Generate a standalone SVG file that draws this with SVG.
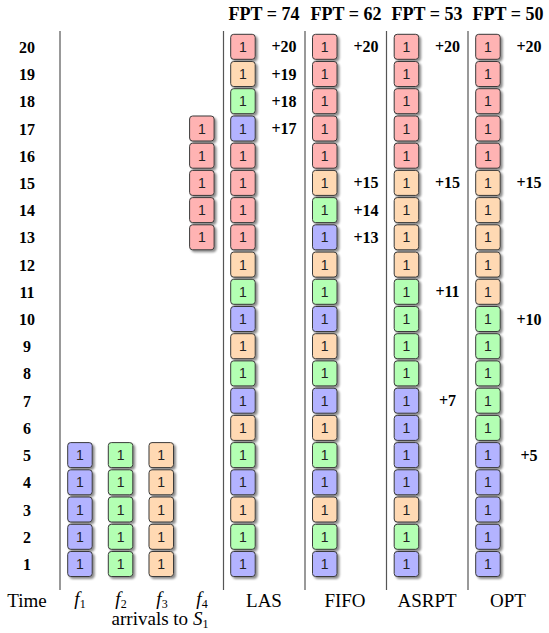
<svg xmlns="http://www.w3.org/2000/svg" width="549" height="633" viewBox="0 0 549 633">
<style>
.bg{fill:#fff}
.c{stroke:#3a3a3a;stroke-width:1;filter:url(#sh)}
.R{fill:#FFB3B3}.O{fill:#FFD9B3}.G{fill:#B3FFB3}.B{fill:#B3B3FF}
.n{font-family:"Liberation Sans",Arial,sans-serif;font-size:14px;fill:#222;text-anchor:middle}
.rl{font-family:"Liberation Serif","Times New Roman",serif;font-size:16px;font-weight:bold;text-anchor:middle;fill:#000}
.pl{font-family:"Liberation Serif","Times New Roman",serif;font-size:16px;font-weight:bold;text-anchor:middle;fill:#000}
.hd{font-family:"Liberation Serif","Times New Roman",serif;font-size:18px;font-weight:bold;text-anchor:middle;fill:#000}
.bl{font-family:"Liberation Serif","Times New Roman",serif;font-size:19px;text-anchor:middle;fill:#000}
.it{font-style:italic}
.sub{font-size:12px}
.sep{stroke:#555;stroke-width:1.2}
</style>
<defs>
<filter id="sh" x="-30%" y="-30%" width="170%" height="170%">
<feDropShadow dx="2" dy="2" stdDeviation="1.2" flood-color="#000" flood-opacity="0.45"/>
</filter>
</defs>
<rect class="bg" x="0" y="0" width="549" height="633"/>

<g id="separators">
<line class="sep" x1="60" y1="31" x2="60" y2="590"/>
<line class="sep" x1="223.5" y1="31" x2="223.5" y2="590"/>
<line class="sep" x1="305" y1="31" x2="305" y2="590"/>
<line class="sep" x1="386.5" y1="31" x2="386.5" y2="590"/>
<line class="sep" x1="468" y1="31" x2="468" y2="590"/>
</g>

<g id="headers">
<text class="hd" x="264" y="20">FPT = 74</text>
<text class="hd" x="346" y="20">FPT = 62</text>
<text class="hd" x="427" y="20">FPT = 53</text>
<text class="hd" x="508" y="20">FPT = 50</text>
</g>

<g id="row-labels">
<text class="rl" x="27" y="52.8">20</text>
<text class="rl" x="27" y="80">19</text>
<text class="rl" x="27" y="107.2">18</text>
<text class="rl" x="27" y="134.5">17</text>
<text class="rl" x="27" y="161.7">16</text>
<text class="rl" x="27" y="188.9">15</text>
<text class="rl" x="27" y="216.1">14</text>
<text class="rl" x="27" y="243.3">13</text>
<text class="rl" x="27" y="270.6">12</text>
<text class="rl" x="27" y="297.8">11</text>
<text class="rl" x="27" y="325">10</text>
<text class="rl" x="27" y="352.2">9</text>
<text class="rl" x="27" y="379.4">8</text>
<text class="rl" x="27" y="406.7">7</text>
<text class="rl" x="27" y="433.9">6</text>
<text class="rl" x="27" y="461.1">5</text>
<text class="rl" x="27" y="488.3">4</text>
<text class="rl" x="27" y="515.5">3</text>
<text class="rl" x="27" y="542.8">2</text>
<text class="rl" x="27" y="570">1</text>
</g>

<g id="col-f1">
<g id="f1-r5"><rect class="c B" x="67.7" y="442.6" width="24.5" height="25" rx="3"/><text class="n" x="79.95" y="460.1">1</text></g>
<g id="f1-r4"><rect class="c B" x="67.7" y="469.8" width="24.5" height="25" rx="3"/><text class="n" x="79.95" y="487.3">1</text></g>
<g id="f1-r3"><rect class="c B" x="67.7" y="497" width="24.5" height="25" rx="3"/><text class="n" x="79.95" y="514.5">1</text></g>
<g id="f1-r2"><rect class="c B" x="67.7" y="524.3" width="24.5" height="25" rx="3"/><text class="n" x="79.95" y="541.8">1</text></g>
<g id="f1-r1"><rect class="c B" x="67.7" y="551.5" width="24.5" height="25" rx="3"/><text class="n" x="79.95" y="569">1</text></g>
</g>
<g id="col-f2">
<g id="f2-r5"><rect class="c G" x="108.3" y="442.6" width="24.5" height="25" rx="3"/><text class="n" x="120.55" y="460.1">1</text></g>
<g id="f2-r4"><rect class="c G" x="108.3" y="469.8" width="24.5" height="25" rx="3"/><text class="n" x="120.55" y="487.3">1</text></g>
<g id="f2-r3"><rect class="c G" x="108.3" y="497" width="24.5" height="25" rx="3"/><text class="n" x="120.55" y="514.5">1</text></g>
<g id="f2-r2"><rect class="c G" x="108.3" y="524.3" width="24.5" height="25" rx="3"/><text class="n" x="120.55" y="541.8">1</text></g>
<g id="f2-r1"><rect class="c G" x="108.3" y="551.5" width="24.5" height="25" rx="3"/><text class="n" x="120.55" y="569">1</text></g>
</g>
<g id="col-f3">
<g id="f3-r5"><rect class="c O" x="149" y="442.6" width="24.5" height="25" rx="3"/><text class="n" x="161.25" y="460.1">1</text></g>
<g id="f3-r4"><rect class="c O" x="149" y="469.8" width="24.5" height="25" rx="3"/><text class="n" x="161.25" y="487.3">1</text></g>
<g id="f3-r3"><rect class="c O" x="149" y="497" width="24.5" height="25" rx="3"/><text class="n" x="161.25" y="514.5">1</text></g>
<g id="f3-r2"><rect class="c O" x="149" y="524.3" width="24.5" height="25" rx="3"/><text class="n" x="161.25" y="541.8">1</text></g>
<g id="f3-r1"><rect class="c O" x="149" y="551.5" width="24.5" height="25" rx="3"/><text class="n" x="161.25" y="569">1</text></g>
</g>
<g id="col-f4">
<g id="f4-r17"><rect class="c R" x="189.6" y="116" width="24.5" height="25" rx="3"/><text class="n" x="201.85" y="133.5">1</text></g>
<g id="f4-r16"><rect class="c R" x="189.6" y="143.2" width="24.5" height="25" rx="3"/><text class="n" x="201.85" y="160.7">1</text></g>
<g id="f4-r15"><rect class="c R" x="189.6" y="170.4" width="24.5" height="25" rx="3"/><text class="n" x="201.85" y="187.9">1</text></g>
<g id="f4-r14"><rect class="c R" x="189.6" y="197.6" width="24.5" height="25" rx="3"/><text class="n" x="201.85" y="215.1">1</text></g>
<g id="f4-r13"><rect class="c R" x="189.6" y="224.8" width="24.5" height="25" rx="3"/><text class="n" x="201.85" y="242.3">1</text></g>
</g>

<g id="col-las">
<g id="las-r20"><rect class="c R" x="230.7" y="34.3" width="24.5" height="25" rx="3"/><text class="n" x="242.95" y="51.8">1</text></g>
<g id="las-r19"><rect class="c O" x="230.7" y="61.5" width="24.5" height="25" rx="3"/><text class="n" x="242.95" y="79">1</text></g>
<g id="las-r18"><rect class="c G" x="230.7" y="88.7" width="24.5" height="25" rx="3"/><text class="n" x="242.95" y="106.2">1</text></g>
<g id="las-r17"><rect class="c B" x="230.7" y="116" width="24.5" height="25" rx="3"/><text class="n" x="242.95" y="133.5">1</text></g>
<g id="las-r16"><rect class="c R" x="230.7" y="143.2" width="24.5" height="25" rx="3"/><text class="n" x="242.95" y="160.7">1</text></g>
<g id="las-r15"><rect class="c R" x="230.7" y="170.4" width="24.5" height="25" rx="3"/><text class="n" x="242.95" y="187.9">1</text></g>
<g id="las-r14"><rect class="c R" x="230.7" y="197.6" width="24.5" height="25" rx="3"/><text class="n" x="242.95" y="215.1">1</text></g>
<g id="las-r13"><rect class="c R" x="230.7" y="224.8" width="24.5" height="25" rx="3"/><text class="n" x="242.95" y="242.3">1</text></g>
<g id="las-r12"><rect class="c O" x="230.7" y="252.1" width="24.5" height="25" rx="3"/><text class="n" x="242.95" y="269.6">1</text></g>
<g id="las-r11"><rect class="c G" x="230.7" y="279.3" width="24.5" height="25" rx="3"/><text class="n" x="242.95" y="296.8">1</text></g>
<g id="las-r10"><rect class="c B" x="230.7" y="306.5" width="24.5" height="25" rx="3"/><text class="n" x="242.95" y="324">1</text></g>
<g id="las-r9"><rect class="c O" x="230.7" y="333.7" width="24.5" height="25" rx="3"/><text class="n" x="242.95" y="351.2">1</text></g>
<g id="las-r8"><rect class="c G" x="230.7" y="360.9" width="24.5" height="25" rx="3"/><text class="n" x="242.95" y="378.4">1</text></g>
<g id="las-r7"><rect class="c B" x="230.7" y="388.2" width="24.5" height="25" rx="3"/><text class="n" x="242.95" y="405.7">1</text></g>
<g id="las-r6"><rect class="c O" x="230.7" y="415.4" width="24.5" height="25" rx="3"/><text class="n" x="242.95" y="432.9">1</text></g>
<g id="las-r5"><rect class="c G" x="230.7" y="442.6" width="24.5" height="25" rx="3"/><text class="n" x="242.95" y="460.1">1</text></g>
<g id="las-r4"><rect class="c B" x="230.7" y="469.8" width="24.5" height="25" rx="3"/><text class="n" x="242.95" y="487.3">1</text></g>
<g id="las-r3"><rect class="c O" x="230.7" y="497" width="24.5" height="25" rx="3"/><text class="n" x="242.95" y="514.5">1</text></g>
<g id="las-r2"><rect class="c G" x="230.7" y="524.3" width="24.5" height="25" rx="3"/><text class="n" x="242.95" y="541.8">1</text></g>
<g id="las-r1"><rect class="c B" x="230.7" y="551.5" width="24.5" height="25" rx="3"/><text class="n" x="242.95" y="569">1</text></g>
<text class="pl" x="284" y="52.3">+20</text>
<text class="pl" x="284" y="79.5">+19</text>
<text class="pl" x="284" y="106.7">+18</text>
<text class="pl" x="284" y="134">+17</text>
</g>

<g id="col-fifo">
<g id="fifo-r20"><rect class="c R" x="312.5" y="34.3" width="24.5" height="25" rx="3"/><text class="n" x="324.75" y="51.8">1</text></g>
<g id="fifo-r19"><rect class="c R" x="312.5" y="61.5" width="24.5" height="25" rx="3"/><text class="n" x="324.75" y="79">1</text></g>
<g id="fifo-r18"><rect class="c R" x="312.5" y="88.7" width="24.5" height="25" rx="3"/><text class="n" x="324.75" y="106.2">1</text></g>
<g id="fifo-r17"><rect class="c R" x="312.5" y="116" width="24.5" height="25" rx="3"/><text class="n" x="324.75" y="133.5">1</text></g>
<g id="fifo-r16"><rect class="c R" x="312.5" y="143.2" width="24.5" height="25" rx="3"/><text class="n" x="324.75" y="160.7">1</text></g>
<g id="fifo-r15"><rect class="c O" x="312.5" y="170.4" width="24.5" height="25" rx="3"/><text class="n" x="324.75" y="187.9">1</text></g>
<g id="fifo-r14"><rect class="c G" x="312.5" y="197.6" width="24.5" height="25" rx="3"/><text class="n" x="324.75" y="215.1">1</text></g>
<g id="fifo-r13"><rect class="c B" x="312.5" y="224.8" width="24.5" height="25" rx="3"/><text class="n" x="324.75" y="242.3">1</text></g>
<g id="fifo-r12"><rect class="c O" x="312.5" y="252.1" width="24.5" height="25" rx="3"/><text class="n" x="324.75" y="269.6">1</text></g>
<g id="fifo-r11"><rect class="c G" x="312.5" y="279.3" width="24.5" height="25" rx="3"/><text class="n" x="324.75" y="296.8">1</text></g>
<g id="fifo-r10"><rect class="c B" x="312.5" y="306.5" width="24.5" height="25" rx="3"/><text class="n" x="324.75" y="324">1</text></g>
<g id="fifo-r9"><rect class="c O" x="312.5" y="333.7" width="24.5" height="25" rx="3"/><text class="n" x="324.75" y="351.2">1</text></g>
<g id="fifo-r8"><rect class="c G" x="312.5" y="360.9" width="24.5" height="25" rx="3"/><text class="n" x="324.75" y="378.4">1</text></g>
<g id="fifo-r7"><rect class="c B" x="312.5" y="388.2" width="24.5" height="25" rx="3"/><text class="n" x="324.75" y="405.7">1</text></g>
<g id="fifo-r6"><rect class="c O" x="312.5" y="415.4" width="24.5" height="25" rx="3"/><text class="n" x="324.75" y="432.9">1</text></g>
<g id="fifo-r5"><rect class="c G" x="312.5" y="442.6" width="24.5" height="25" rx="3"/><text class="n" x="324.75" y="460.1">1</text></g>
<g id="fifo-r4"><rect class="c B" x="312.5" y="469.8" width="24.5" height="25" rx="3"/><text class="n" x="324.75" y="487.3">1</text></g>
<g id="fifo-r3"><rect class="c O" x="312.5" y="497" width="24.5" height="25" rx="3"/><text class="n" x="324.75" y="514.5">1</text></g>
<g id="fifo-r2"><rect class="c G" x="312.5" y="524.3" width="24.5" height="25" rx="3"/><text class="n" x="324.75" y="541.8">1</text></g>
<g id="fifo-r1"><rect class="c B" x="312.5" y="551.5" width="24.5" height="25" rx="3"/><text class="n" x="324.75" y="569">1</text></g>
<text class="pl" x="366" y="52.3">+20</text>
<text class="pl" x="366" y="188.4">+15</text>
<text class="pl" x="366" y="215.6">+14</text>
<text class="pl" x="366" y="242.8">+13</text>
</g>

<g id="col-asrpt">
<g id="asrpt-r20"><rect class="c R" x="394.2" y="34.3" width="24.5" height="25" rx="3"/><text class="n" x="406.45" y="51.8">1</text></g>
<g id="asrpt-r19"><rect class="c R" x="394.2" y="61.5" width="24.5" height="25" rx="3"/><text class="n" x="406.45" y="79">1</text></g>
<g id="asrpt-r18"><rect class="c R" x="394.2" y="88.7" width="24.5" height="25" rx="3"/><text class="n" x="406.45" y="106.2">1</text></g>
<g id="asrpt-r17"><rect class="c R" x="394.2" y="116" width="24.5" height="25" rx="3"/><text class="n" x="406.45" y="133.5">1</text></g>
<g id="asrpt-r16"><rect class="c R" x="394.2" y="143.2" width="24.5" height="25" rx="3"/><text class="n" x="406.45" y="160.7">1</text></g>
<g id="asrpt-r15"><rect class="c O" x="394.2" y="170.4" width="24.5" height="25" rx="3"/><text class="n" x="406.45" y="187.9">1</text></g>
<g id="asrpt-r14"><rect class="c O" x="394.2" y="197.6" width="24.5" height="25" rx="3"/><text class="n" x="406.45" y="215.1">1</text></g>
<g id="asrpt-r13"><rect class="c O" x="394.2" y="224.8" width="24.5" height="25" rx="3"/><text class="n" x="406.45" y="242.3">1</text></g>
<g id="asrpt-r12"><rect class="c O" x="394.2" y="252.1" width="24.5" height="25" rx="3"/><text class="n" x="406.45" y="269.6">1</text></g>
<g id="asrpt-r11"><rect class="c G" x="394.2" y="279.3" width="24.5" height="25" rx="3"/><text class="n" x="406.45" y="296.8">1</text></g>
<g id="asrpt-r10"><rect class="c G" x="394.2" y="306.5" width="24.5" height="25" rx="3"/><text class="n" x="406.45" y="324">1</text></g>
<g id="asrpt-r9"><rect class="c G" x="394.2" y="333.7" width="24.5" height="25" rx="3"/><text class="n" x="406.45" y="351.2">1</text></g>
<g id="asrpt-r8"><rect class="c G" x="394.2" y="360.9" width="24.5" height="25" rx="3"/><text class="n" x="406.45" y="378.4">1</text></g>
<g id="asrpt-r7"><rect class="c B" x="394.2" y="388.2" width="24.5" height="25" rx="3"/><text class="n" x="406.45" y="405.7">1</text></g>
<g id="asrpt-r6"><rect class="c B" x="394.2" y="415.4" width="24.5" height="25" rx="3"/><text class="n" x="406.45" y="432.9">1</text></g>
<g id="asrpt-r5"><rect class="c B" x="394.2" y="442.6" width="24.5" height="25" rx="3"/><text class="n" x="406.45" y="460.1">1</text></g>
<g id="asrpt-r4"><rect class="c B" x="394.2" y="469.8" width="24.5" height="25" rx="3"/><text class="n" x="406.45" y="487.3">1</text></g>
<g id="asrpt-r3"><rect class="c O" x="394.2" y="497" width="24.5" height="25" rx="3"/><text class="n" x="406.45" y="514.5">1</text></g>
<g id="asrpt-r2"><rect class="c G" x="394.2" y="524.3" width="24.5" height="25" rx="3"/><text class="n" x="406.45" y="541.8">1</text></g>
<g id="asrpt-r1"><rect class="c B" x="394.2" y="551.5" width="24.5" height="25" rx="3"/><text class="n" x="406.45" y="569">1</text></g>
<text class="pl" x="447.5" y="52.3">+20</text>
<text class="pl" x="447.5" y="188.4">+15</text>
<text class="pl" x="447.5" y="297.3">+11</text>
<text class="pl" x="447.5" y="406.2">+7</text>
</g>

<g id="col-opt">
<g id="opt-r20"><rect class="c R" x="475.7" y="34.3" width="24.5" height="25" rx="3"/><text class="n" x="487.95" y="51.8">1</text></g>
<g id="opt-r19"><rect class="c R" x="475.7" y="61.5" width="24.5" height="25" rx="3"/><text class="n" x="487.95" y="79">1</text></g>
<g id="opt-r18"><rect class="c R" x="475.7" y="88.7" width="24.5" height="25" rx="3"/><text class="n" x="487.95" y="106.2">1</text></g>
<g id="opt-r17"><rect class="c R" x="475.7" y="116" width="24.5" height="25" rx="3"/><text class="n" x="487.95" y="133.5">1</text></g>
<g id="opt-r16"><rect class="c R" x="475.7" y="143.2" width="24.5" height="25" rx="3"/><text class="n" x="487.95" y="160.7">1</text></g>
<g id="opt-r15"><rect class="c O" x="475.7" y="170.4" width="24.5" height="25" rx="3"/><text class="n" x="487.95" y="187.9">1</text></g>
<g id="opt-r14"><rect class="c O" x="475.7" y="197.6" width="24.5" height="25" rx="3"/><text class="n" x="487.95" y="215.1">1</text></g>
<g id="opt-r13"><rect class="c O" x="475.7" y="224.8" width="24.5" height="25" rx="3"/><text class="n" x="487.95" y="242.3">1</text></g>
<g id="opt-r12"><rect class="c O" x="475.7" y="252.1" width="24.5" height="25" rx="3"/><text class="n" x="487.95" y="269.6">1</text></g>
<g id="opt-r11"><rect class="c O" x="475.7" y="279.3" width="24.5" height="25" rx="3"/><text class="n" x="487.95" y="296.8">1</text></g>
<g id="opt-r10"><rect class="c G" x="475.7" y="306.5" width="24.5" height="25" rx="3"/><text class="n" x="487.95" y="324">1</text></g>
<g id="opt-r9"><rect class="c G" x="475.7" y="333.7" width="24.5" height="25" rx="3"/><text class="n" x="487.95" y="351.2">1</text></g>
<g id="opt-r8"><rect class="c G" x="475.7" y="360.9" width="24.5" height="25" rx="3"/><text class="n" x="487.95" y="378.4">1</text></g>
<g id="opt-r7"><rect class="c G" x="475.7" y="388.2" width="24.5" height="25" rx="3"/><text class="n" x="487.95" y="405.7">1</text></g>
<g id="opt-r6"><rect class="c G" x="475.7" y="415.4" width="24.5" height="25" rx="3"/><text class="n" x="487.95" y="432.9">1</text></g>
<g id="opt-r5"><rect class="c B" x="475.7" y="442.6" width="24.5" height="25" rx="3"/><text class="n" x="487.95" y="460.1">1</text></g>
<g id="opt-r4"><rect class="c B" x="475.7" y="469.8" width="24.5" height="25" rx="3"/><text class="n" x="487.95" y="487.3">1</text></g>
<g id="opt-r3"><rect class="c B" x="475.7" y="497" width="24.5" height="25" rx="3"/><text class="n" x="487.95" y="514.5">1</text></g>
<g id="opt-r2"><rect class="c B" x="475.7" y="524.3" width="24.5" height="25" rx="3"/><text class="n" x="487.95" y="541.8">1</text></g>
<g id="opt-r1"><rect class="c B" x="475.7" y="551.5" width="24.5" height="25" rx="3"/><text class="n" x="487.95" y="569">1</text></g>
<text class="pl" x="529" y="52.3">+20</text>
<text class="pl" x="529" y="188.4">+15</text>
<text class="pl" x="529" y="324.5">+10</text>
<text class="pl" x="529" y="460.6">+5</text>
</g>

<g id="bottom-labels">
<text class="bl" x="27" y="607">Time</text>
<text class="bl" x="80" y="605"><tspan class="it">f</tspan><tspan class="sub" dy="3">1</tspan></text>
<text class="bl" x="121" y="605"><tspan class="it">f</tspan><tspan class="sub" dy="3">2</tspan></text>
<text class="bl" x="162" y="605"><tspan class="it">f</tspan><tspan class="sub" dy="3">3</tspan></text>
<text class="bl" x="202" y="605"><tspan class="it">f</tspan><tspan class="sub" dy="3">4</tspan></text>
<text class="bl" x="160" y="625">arrivals to <tspan class="it">S</tspan><tspan class="sub" dy="3">1</tspan></text>
<text class="bl" x="264" y="607">LAS</text>
<text class="bl" x="345" y="607">FIFO</text>
<text class="bl" x="427" y="607">ASRPT</text>
<text class="bl" x="508" y="607">OPT</text>
</g>
</svg>
